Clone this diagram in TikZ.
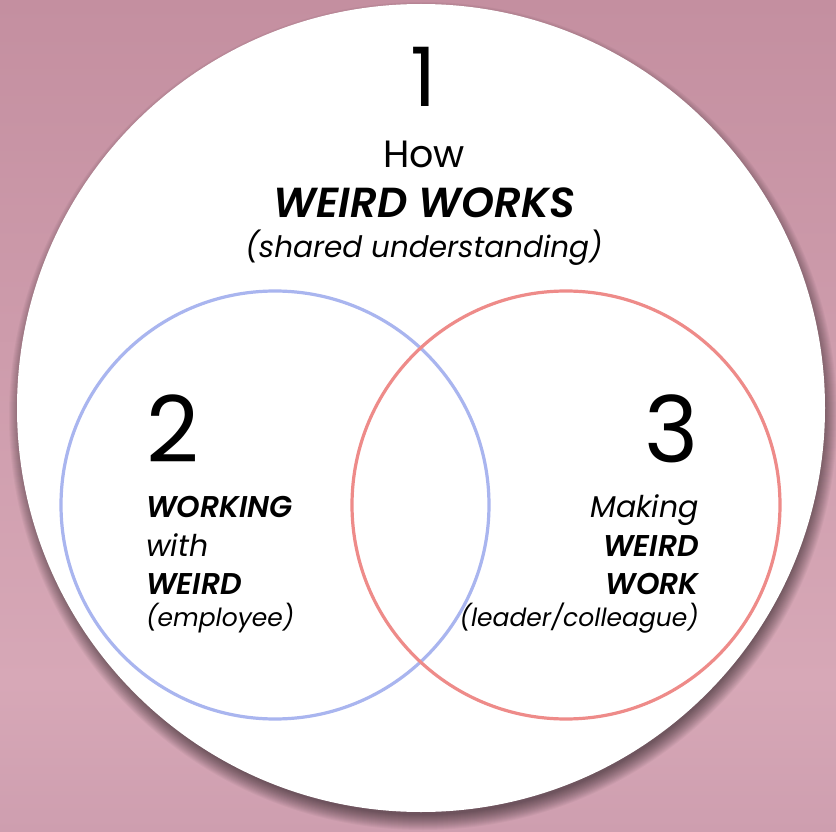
\documentclass[tikz,border=0pt]{standalone}
\usepackage{fontspec}
\setmainfont{Poppins}[BoldFont={Poppins SemiBold}, BoldItalicFont={Poppins SemiBold Italic}]
\definecolor{bgtop}{HTML}{C48FA0}
\definecolor{bglight}{HTML}{D7A8B7}
\definecolor{bgbot}{HTML}{CE9EAF}
\definecolor{empblue}{HTML}{A9B5EF}
\definecolor{leadred}{HTML}{EE8B89}
\pgfdeclareverticalshading{bgshade}{100bp}{color(0bp)=(bgbot); color(25bp)=(bgbot); color(34bp)=(bglight); color(75bp)=(bgtop); color(100bp)=(bgtop)}
\tikzset{
  bignum/.style={inner sep=0pt, anchor=base, font=\fontsize{82}{82}\selectfont},
  setnum/.style={inner sep=0pt, font=\fontsize{92}{92}\selectfont},
  toptxt/.style={inner sep=0pt, anchor=base, font=\fontsize{38}{44}\selectfont},
  setbold/.style={inner sep=0pt, font=\fontsize{30}{36}\selectfont\bfseries\itshape},
  setital/.style={inner sep=0pt, font=\fontsize{30}{36}\selectfont\itshape},
  setsmall/.style={inner sep=0pt, font=\fontsize{25}{30}\selectfont\itshape},
  ring/.style={line width=3.2pt}
}
\begin{document}
\begin{tikzpicture}[x=1pt, y=-1pt]
  \useasboundingbox (0,0) rectangle (836,832);
  \shade[shading=bgshade] (0,0) rectangle (836,832);
  % soft shadow under the big circle
  \foreach \k in {1,...,16}
    \fill[black, opacity=0.035] (423,416) circle[radius=398+\k];
  \fill[white] (421,408) circle[radius=404];
  % the two sets
  \draw[ring, empblue] (275,505) circle[radius=214];
  \draw[ring, leadred] (566,505) circle[radius=214];
  % 1: the whole
  \node[bignum] (one) at (424,107) {1};
  \node[toptxt] (how) at (424,168) {How};
  \node[toptxt, font=\fontsize{42}{48}\selectfont\bfseries\itshape] (works) at (424,218) {WEIRD WORKS};
  \node[toptxt, font=\fontsize{29.5}{36}\selectfont\itshape] (shared) at (424,258) {(shared understanding)};
  % 2: employee
  \node[setnum, anchor=base west] (two) at (146,462) {2};
  \node[setbold, anchor=base west] (working) at (146,517) {WORKING};
  \node[setital, anchor=base west] (with) at (146,556) {with};
  \node[setbold, anchor=base west] (weirdl) at (146,594) {WEIRD};
  \node[setsmall, anchor=base west] (employee) at (146,626) {(employee)};
  % 3: leader
  \node[setnum, anchor=base east] (three) at (699,462) {3};
  \node[setital, anchor=base east] (making) at (699,517) {Making};
  \node[setbold, anchor=base east] (weirdr) at (699,556) {WEIRD};
  \node[setbold, anchor=base east] (work) at (699,594) {WORK};
  \node[setsmall, anchor=base east] (leader) at (699,626) {(leader/colleague)};
\end{tikzpicture}
\end{document}
